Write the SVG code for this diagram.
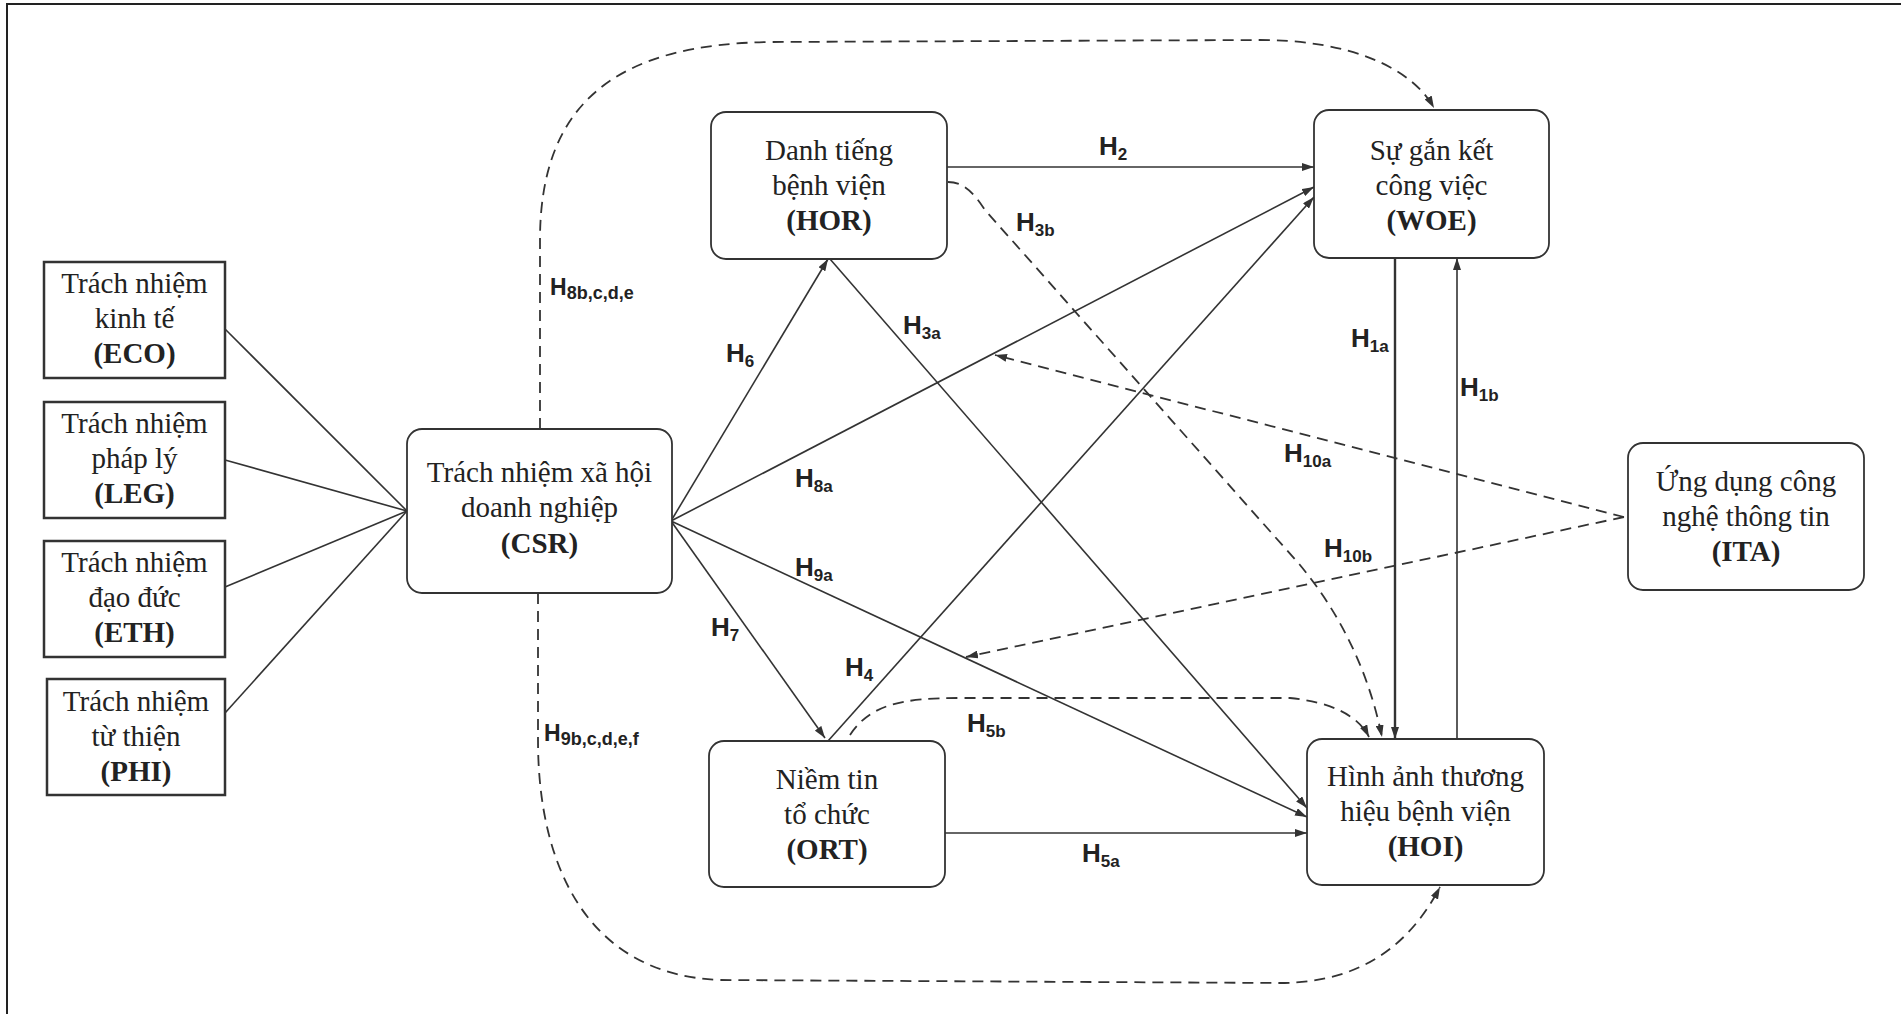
<svg xmlns="http://www.w3.org/2000/svg" width="1901" height="1014" viewBox="0 0 1901 1014">
  <style>
    .bg { fill: #ffffff; }
    .frame { fill: none; stroke: #222; stroke-width: 2; }
    .sq { fill: #fff; stroke: #333; stroke-width: 2.5; }
    .rd { fill: #fff; stroke: #333; stroke-width: 1.8; }
    .nt { font-family: "Liberation Serif", "Times New Roman", serif; font-size: 29px; fill: #222; text-anchor: middle; }
    .nb { font-weight: bold; }
    .ln { fill: none; stroke: #333; stroke-width: 1.6; }
    .lnb { fill: none; stroke: #333; stroke-width: 2.4; }
    .ds { fill: none; stroke: #333; stroke-width: 1.8; stroke-dasharray: 11 7; }
    .lb { font-family: "Liberation Sans", Arial, sans-serif; font-weight: bold; font-size: 26px; fill: #222; }
    .lb .s { font-size: 17px; }
    .lbs { font-family: "Liberation Sans", Arial, sans-serif; font-weight: bold; font-size: 23px; fill: #222; }
    .lbs .s { font-size: 18px; }
  </style>
  <defs>
    <marker id="arr" viewBox="0 0 12 8" refX="12" refY="4" markerWidth="12" markerHeight="8" markerUnits="userSpaceOnUse" orient="auto">
      <path d="M0,0 L12,4 L0,8 z" fill="#333"/>
    </marker>
  </defs>

  <rect class="bg" x="0" y="0" width="1901" height="1014"/>
  <path class="frame" d="M7,1014 V4 H1901"/>

  <!-- connectors -->
  <g id="connectors">
    <!-- CSR dimensions -->
    <line class="ln" x1="225" y1="329" x2="407" y2="511"/>
    <line class="ln" x1="225" y1="460" x2="407" y2="511"/>
    <line class="ln" x1="225" y1="587" x2="407" y2="511"/>
    <line class="ln" x1="225" y1="713" x2="407" y2="511"/>

    <!-- direct paths -->
    <line class="ln" x1="671" y1="521" x2="828" y2="259" marker-end="url(#arr)"/>
    <line class="ln" x1="671" y1="521" x2="1314" y2="187" marker-end="url(#arr)"/>
    <line class="ln" x1="671" y1="521" x2="1307" y2="817" marker-end="url(#arr)"/>
    <line class="ln" x1="671" y1="521" x2="825" y2="738" marker-end="url(#arr)"/>
    <line class="ln" x1="830" y1="259" x2="1307" y2="808" marker-end="url(#arr)"/>
    <line class="ln" x1="828" y1="741" x2="1314" y2="197" marker-end="url(#arr)"/>
    <line class="ln" x1="947" y1="167" x2="1314" y2="167" marker-end="url(#arr)"/>
    <line class="ln" x1="945" y1="833" x2="1307" y2="833" marker-end="url(#arr)"/>
    <line class="lnb" x1="1395" y1="258" x2="1395" y2="739" marker-end="url(#arr)"/>
    <line class="ln" x1="1457" y1="739" x2="1457" y2="258" marker-end="url(#arr)"/>

    <!-- mediated / moderated paths -->
    <path class="ds" d="M948,182 C965,182 975,195 985,210 L1300,565 Q1362,640 1382,737" marker-end="url(#arr)"/>
    <path class="ds" d="M850,735 C870,705 900,698 960,698 L1290,698 C1330,702 1358,715 1369,737" marker-end="url(#arr)"/>
    <line class="ds" x1="1624" y1="517" x2="995" y2="355" marker-end="url(#arr)"/>
    <line class="ds" x1="1624" y1="517" x2="966" y2="657" marker-end="url(#arr)"/>
    <path class="ds" d="M540,429 L540,240 C540,100 620,44 770,42 L1260,40 C1345,40 1410,65 1434,108" marker-end="url(#arr)"/>
    <path class="ds" d="M538,593 L538,740 C538,870 590,975 720,980 L1280,983 C1370,983 1415,935 1440,887" marker-end="url(#arr)"/>

    <!-- path labels -->
    <text class="lb" x="1099" y="155">H<tspan class="s" dy="5">2</tspan></text>
    <text class="lb" x="1016" y="231">H<tspan class="s" dy="5">3b</tspan></text>
    <text class="lb" x="903" y="334">H<tspan class="s" dy="5">3a</tspan></text>
    <text class="lb" x="726" y="362">H<tspan class="s" dy="5">6</tspan></text>
    <text class="lbs" x="550" y="295">H<tspan class="s" dy="4">8b,c,d,e</tspan></text>
    <text class="lb" x="795" y="487">H<tspan class="s" dy="5">8a</tspan></text>
    <text class="lb" x="795" y="576">H<tspan class="s" dy="5">9a</tspan></text>
    <text class="lb" x="711" y="636">H<tspan class="s" dy="5">7</tspan></text>
    <text class="lb" x="845" y="676">H<tspan class="s" dy="5">4</tspan></text>
    <text class="lb" x="967" y="732">H<tspan class="s" dy="5">5b</tspan></text>
    <text class="lbs" x="544" y="741">H<tspan class="s" dy="4">9b,c,d,e,f</tspan></text>
    <text class="lb" x="1082" y="862">H<tspan class="s" dy="5">5a</tspan></text>
    <text class="lb" x="1351" y="347">H<tspan class="s" dy="5">1a</tspan></text>
    <text class="lb" x="1460" y="396">H<tspan class="s" dy="5">1b</tspan></text>
    <text class="lb" x="1284" y="462">H<tspan class="s" dy="5">10a</tspan></text>
    <text class="lb" x="1324" y="557">H<tspan class="s" dy="5">10b</tspan></text>
  </g>

  <!-- CSR dimensions -->
  <g id="ECO">
    <rect class="sq" x="44" y="262" width="181" height="116"/>
    <text class="nt" x="134.5" y="293">Trách nhiệm</text>
    <text class="nt" x="134.5" y="328">kinh tế</text>
    <text class="nt nb" x="134.5" y="363">(ECO)</text>
  </g>
  <g id="LEG">
    <rect class="sq" x="44" y="402" width="181" height="116"/>
    <text class="nt" x="134.5" y="433">Trách nhiệm</text>
    <text class="nt" x="134.5" y="468">pháp lý</text>
    <text class="nt nb" x="134.5" y="503">(LEG)</text>
  </g>
  <g id="ETH">
    <rect class="sq" x="44" y="541" width="181" height="116"/>
    <text class="nt" x="134.5" y="572">Trách nhiệm</text>
    <text class="nt" x="134.5" y="607">đạo đức</text>
    <text class="nt nb" x="134.5" y="642">(ETH)</text>
  </g>
  <g id="PHI">
    <rect class="sq" x="47" y="679" width="178" height="116"/>
    <text class="nt" x="136" y="711">Trách nhiệm</text>
    <text class="nt" x="136" y="746">từ thiện</text>
    <text class="nt nb" x="136" y="781">(PHI)</text>
  </g>

  <!-- constructs -->
  <g id="CSR">
    <rect class="rd" x="407" y="429" width="265" height="164" rx="15"/>
    <text class="nt" x="539.5" y="482">Trách nhiệm xã hội</text>
    <text class="nt" x="539.5" y="517">doanh nghiệp</text>
    <text class="nt nb" x="539.5" y="553">(CSR)</text>
  </g>
  <g id="HOR">
    <rect class="rd" x="711" y="112" width="236" height="147" rx="15"/>
    <text class="nt" x="829" y="160">Danh tiếng</text>
    <text class="nt" x="829" y="195">bệnh viện</text>
    <text class="nt nb" x="829" y="230">(HOR)</text>
  </g>
  <g id="WOE">
    <rect class="rd" x="1314" y="110" width="235" height="148" rx="15"/>
    <text class="nt" x="1431.5" y="160">Sự gắn kết</text>
    <text class="nt" x="1431.5" y="195">công việc</text>
    <text class="nt nb" x="1431.5" y="230">(WOE)</text>
  </g>
  <g id="ORT">
    <rect class="rd" x="709" y="741" width="236" height="146" rx="15"/>
    <text class="nt" x="827" y="789">Niềm tin</text>
    <text class="nt" x="827" y="824">tổ chức</text>
    <text class="nt nb" x="827" y="859">(ORT)</text>
  </g>
  <g id="HOI">
    <rect class="rd" x="1307" y="739" width="237" height="146" rx="15"/>
    <text class="nt" x="1425.5" y="786">Hình ảnh thương</text>
    <text class="nt" x="1425.5" y="821">hiệu bệnh viện</text>
    <text class="nt nb" x="1425.5" y="856">(HOI)</text>
  </g>
  <g id="ITA">
    <rect class="rd" x="1628" y="443" width="236" height="147" rx="15"/>
    <text class="nt" x="1746" y="491">Ứng dụng công</text>
    <text class="nt" x="1746" y="526">nghệ thông tin</text>
    <text class="nt nb" x="1746" y="561">(ITA)</text>
  </g>
</svg>
